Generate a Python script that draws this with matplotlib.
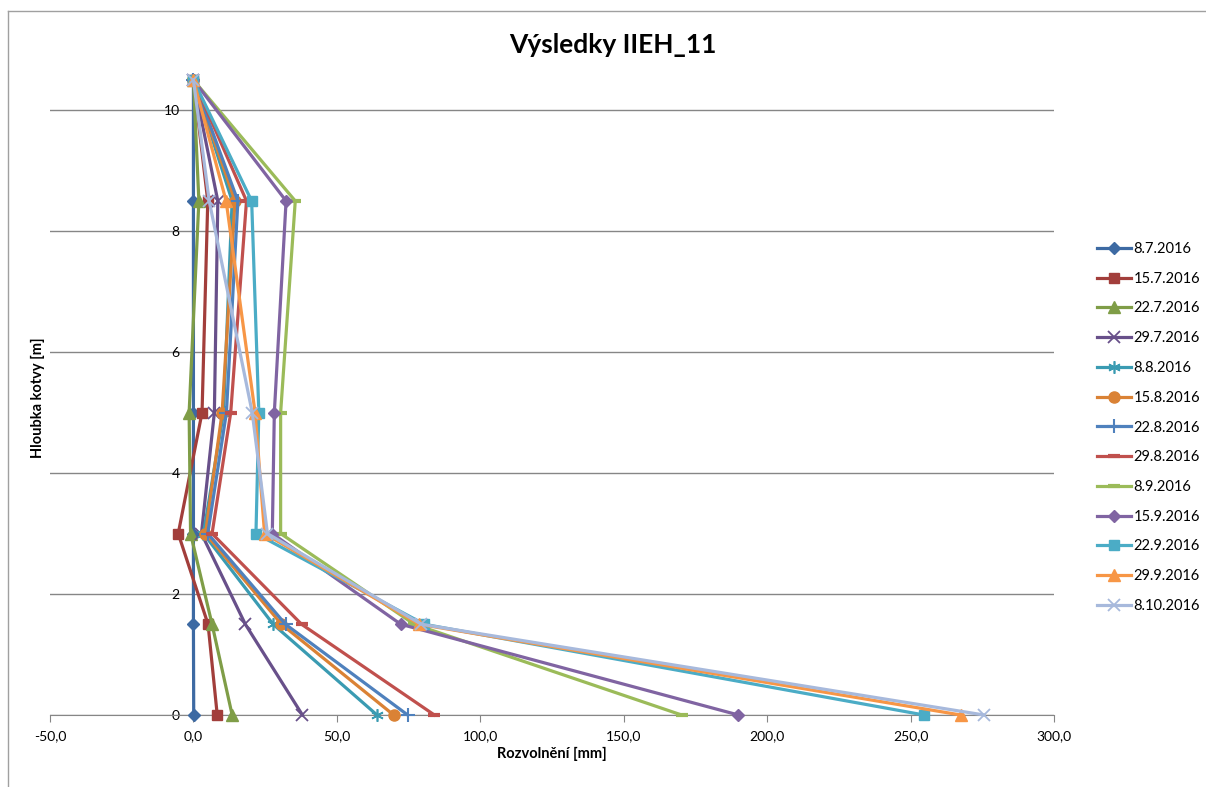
import matplotlib.pyplot as plt
from matplotlib.lines import Line2D
import numpy as np

plt.rcParams['font.family'] = ['Lato', 'DejaVu Sans']

# hloubka kotvy [m]
depths = [10.5, 8.5, 5.0, 3.0, 1.5, 0.0]

# datum mereni a rozvolneni [mm] v jednotlivych hloubkach
dates = ['8.7.2016', '15.7.2016', '22.7.2016', '29.7.2016', '8.8.2016',
         '15.8.2016', '22.8.2016', '29.8.2016', '8.9.2016', '15.9.2016',
         '22.9.2016', '29.9.2016', '8.10.2016']

v_0807 = [0.0, 0.0, 0.0, 0.0, 0.0, 0.1]
v_1507 = [0.0, 5.0, 3.0, -5.3, 5.1, 8.3]
v_2207 = [0.0, 1.9, -1.5, -1.0, 6.5, 13.5]
v_2907 = [0.0, 8.5, 7.3, 2.8, 18.1, 38.0]
v_0808 = [0.0, 13.5, 10.5, 3.5, 27.8, 64.0]
v_1508 = [0.0, 14.5, 10.0, 4.2, 30.7, 69.8]
v_2208 = [0.0, 15.5, 11.5, 5.0, 32.1, 74.7]
v_2908 = [0.0, 18.5, 13.0, 6.5, 37.7, 84.0]
v_0809 = [0.0, 35.5, 30.4, 30.4, 77.0, 170.2]
v_1509 = [0.0, 32.3, 28.2, 27.5, 72.3, 190.0]
v_2209 = [0.0, 20.3, 22.8, 21.8, 80.5, 254.7]
v_2909 = [0.0, 11.4, 21.5, 24.8, 78.7, 267.5]
v_0810 = [0.0, 5.5, 20.5, 25.8, 79.5, 275.6]

values = [v_0807, v_1507, v_2207, v_2907, v_0808, v_1508, v_2208,
          v_2908, v_0809, v_1509, v_2209, v_2909, v_0810]

colors = ['#3D6AA3', '#A23E3B', '#7F9D47', '#68508A', '#3A9BB2', '#DA8235',
          '#4F81BD', '#C0504D', '#9BBB59', '#8064A2', '#4BACC6', '#F79646',
          '#A7B9DC']
# excel-like markers: diamond, square, triangle, x, star, circle, plus, dash
markers = ['D', 's', '^', 'x', (6, 2, 0), 'o', '+', '_', '_', 'D', 's', '^', 'x']
msizes = [6, 7, 8, 9, 9, 8, 10, 8, 8, 6, 7, 8, 9]
mews = [1, 1, 1, 1.3, 1.2, 1, 1.5, 3, 3, 1, 1, 1, 1.3]

fig = plt.figure(figsize=(12.06, 7.87), dpi=100)
ax = fig.add_axes([50 / 1206, 1 - 715 / 787, 1004 / 1206, 635 / 787])

for i, vals in enumerate(values):
    ax.plot(vals, depths, color=colors[i], lw=2.3, marker=markers[i],
            ms=msizes[i], mew=mews[i], mec=colors[i], mfc=colors[i],
            label=dates[i], clip_on=False, zorder=3 + i)

ax.set_xlim(-50, 300)
ax.set_ylim(0, 10.5)

xt = np.arange(-50, 301, 50)
ax.set_xticks(xt)
ax.set_xticklabels([f"{v:.1f}".replace('.', ',') for v in xt], fontsize=10)
ax.set_yticks([0, 2, 4, 6, 8, 10])
ax.set_yticklabels(['0', '2', '4', '6', '8', '10'], fontsize=10.5)

ax.yaxis.grid(True, color='#868686', lw=1)
ax.set_axisbelow(True)
for s in ['top', 'right']:
    ax.spines[s].set_visible(False)
ax.spines['bottom'].set_color('#868686')
ax.spines['left'].set_position(('data', 0))
ax.spines['left'].set_color('#868686')
ax.tick_params(axis='x', direction='out', length=5, color='#868686', pad=6)
ax.tick_params(axis='y', length=0, pad=10)

ax.set_xlabel('Rozvolnění [mm]', fontsize=10.5, fontweight='bold', labelpad=3)
fig.text(38 / 1206, 1 - 398 / 787, 'Hloubka kotvy [m]', rotation=90,
         fontsize=10.5, fontweight='bold', ha='center', va='center')
fig.text(613 / 1206, 1 - 45 / 787, 'Výsledky IIEH_11', fontsize=19,
         fontweight='bold', ha='center', va='center')

leg = fig.legend(loc='upper left', bbox_to_anchor=(1097 / 1206, 1 - 242 / 787),
                 frameon=False, fontsize=10.5, borderpad=0, borderaxespad=0,
                 handlelength=2.3, handletextpad=0.2, labelspacing=1.08)

# outer chart frame
fig.add_artist(Line2D([8 / 1206, 1], [1 - 11 / 787, 1 - 11 / 787],
                      color='#A0A0A0', lw=1))
fig.add_artist(Line2D([8 / 1206, 8 / 1206], [0, 1 - 11 / 787],
                      color='#A0A0A0', lw=1))

fig.savefig('out.png', dpi=100)
